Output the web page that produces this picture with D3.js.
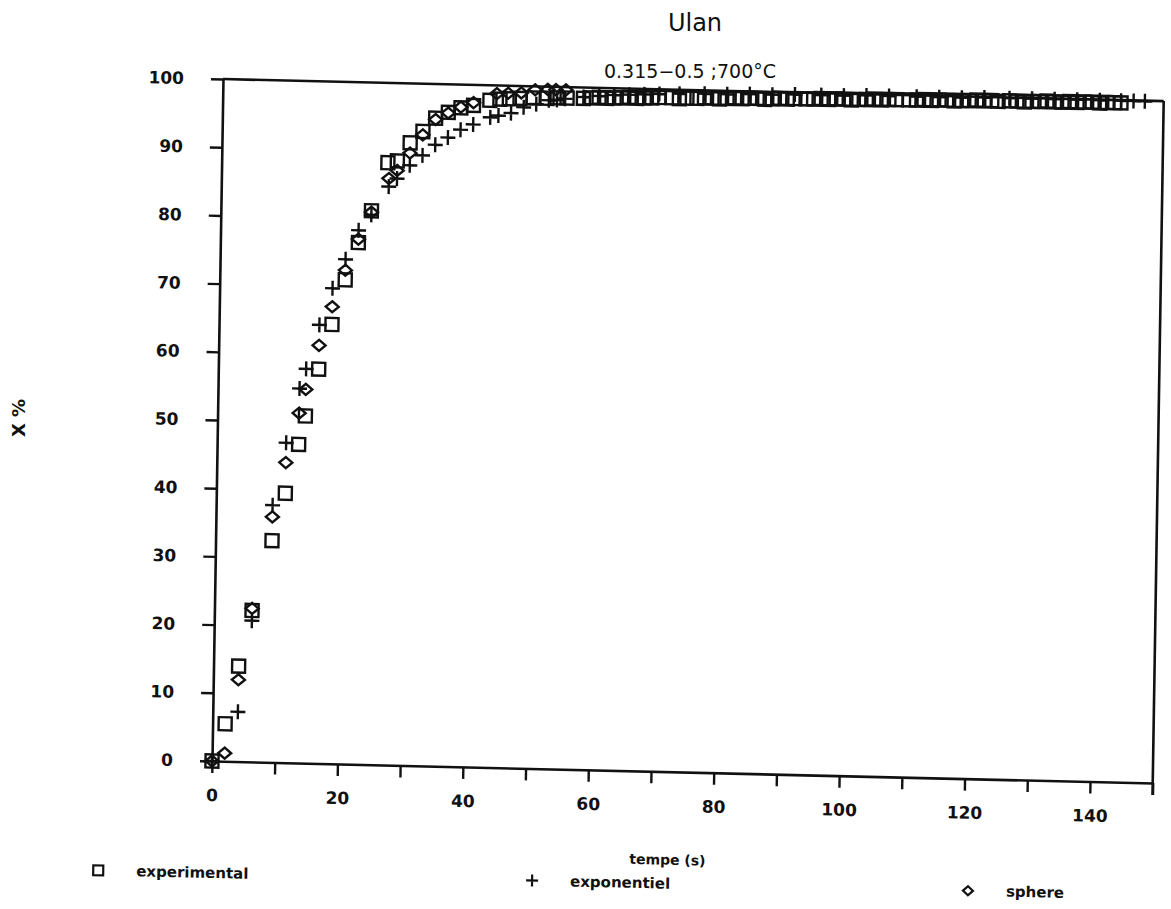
<!DOCTYPE html>
<html>
<head>
<meta charset="utf-8">
<script src="https://cdn.jsdelivr.net/npm/d3@7"></script>
<style>
  body { margin: 0; background: #fff; }
  svg { display: block; }
</style>
</head>
<body>
<svg id="chart" width="1171" height="909"></svg>
<script>
// Conversion X (%) versus time, sample 0.315-0.5, 700 °C
const expTime = [0, 2, 4, 6, 9, 11, 13, 14, 16, 18, 20, 22, 24, 26.5, 28, 30, 32, 34, 36, 38, 40,
  42.6, 44.2, 45.7, 47.4, 49.5, 51.7, 53.3, 54.9, 57.5,
  58.8, 60, 61.2, 62.4, 63.6, 64.8, 66, 67.2, 68.4, 69.6,
  71.6, 72.8, 74,
  75.6, 76.8, 78, 79.2, 80.4, 81.6, 82.8, 84, 85.2, 86.4, 87.6, 88.8, 90, 91.2,
  93, 94.2, 95.4, 96.6, 97.8, 99, 100.2, 101.4, 102.6, 103.8, 105, 106.2, 107.4,
  109.4, 110.6, 111.8, 113, 114.2, 115.4, 116.6, 117.8, 119, 120.2, 121.4, 122.6, 123.6,
  125.4, 126.6, 127.8, 129, 130.2, 131.4, 132.6, 133.8, 135, 136.2, 137.4, 138.6, 139.8, 141, 142.2, 143.2];
const expVal = [0, 5.5, 14, 22.2, 32.5, 39.5, 46.7, 50.9, 57.8, 64.4, 71, 76.5, 81.2, 88.3, 88.6, 91.3, 93, 95, 95.9, 96.6, 97,
  97.8, 98, 98.1, 98.2, 98.3, 98.3, 98.4, 98.4, 98.4,
  98.5, 98.6, 98.5, 98.6, 98.6, 98.7, 98.6, 98.7, 98.7, 98.8,
  98.8, 98.7, 98.8,
  98.8, 98.9, 98.9, 98.8, 98.9, 99.0, 98.9, 99.0, 99.0, 98.9, 99.0, 99.1, 99.0, 99.1,
  99.1, 99.1, 99.2, 99.1, 99.2, 99.2, 99.1, 99.2, 99.2, 99.3, 99.2, 99.3, 99.3,
  99.3, 99.3, 99.4, 99.3, 99.4, 99.4, 99.3, 99.4, 99.4, 99.5, 99.4, 99.5, 99.4,
  99.5, 99.5, 99.4, 99.5, 99.5, 99.6, 99.5, 99.5, 99.6, 99.5, 99.6, 99.6, 99.5, 99.6, 99.6, 99.6];

const expoTime = [0, 4, 6, 9, 11, 13, 14, 16, 18, 20, 22, 24, 26.7, 28, 30, 32, 34, 36, 38, 40,
  42.7, 44, 46, 48, 50, 52, 53.3, 54.6,
  57.5, 60, 62.4, 64.8, 67.2, 69.6, 72.8, 76.8, 80.4, 84, 87.6, 91.2, 95.4, 99, 102.6, 106.2,
  110.6, 114.2, 117.8, 121.4, 125.4, 129, 132.6, 136.2, 139.8, 143.2, 145.2, 147];
const expoVal = [0, 7.3, 20.7, 37.7, 46.9, 54.9, 57.8, 64.3, 69.7, 74, 78.3, 80.6, 84.8, 86, 88, 89.5, 91.1, 92.2, 93.4, 94.2,
  95.3, 95.6, 96, 96.9, 97.4, 98, 98.1, 98.3,
  98.6, 98.8, 99.0, 99.1, 99.2, 99.3, 99.4, 99.5, 99.5, 99.6, 99.6, 99.7, 99.7, 99.7, 99.8, 99.8,
  99.8, 99.8, 99.8, 99.9, 99.9, 99.9, 99.9, 99.9, 99.9, 99.9, 99.9, 99.9];

const sphTime = [0, 2, 4, 6, 9, 11, 13, 14, 16, 18, 20, 22, 24, 26.7, 28, 30, 32, 34, 36, 38, 40,
  43.7, 45.5, 47.6, 49.8, 51.8, 53.1, 54.7];
const sphVal = [0, 1.2, 12, 22.5, 36, 44, 51.3, 54.8, 61.3, 67, 72.4, 77, 81, 86, 87.2, 89.8, 92.5, 94.8, 95.8, 96.7, 97.4,
  98.8, 98.9, 99.0, 99.5, 99.6, 99.6, 99.6];

const xTickValues = [0, 10, 20, 30, 40, 50, 60, 70, 80, 90, 100, 110, 120, 130, 140, 150];
const xTickLabels = [0, 20, 40, 60, 80, 100, 120, 140];
const yTickValues = [0, 10, 20, 30, 40, 50, 60, 70, 80, 90, 100];

const seriesNames = ["experimental", "exponentiel", "sphere"];

const svg = d3.select("#chart");
const W = 941, H = 682;
const x = d3.scaleLinear().domain([0, 150]).range([0, W]);
const y = d3.scaleLinear().domain([0, 100]).range([0, -H]);
const ink = "#111";

// marker shapes
function squarePath(s) { const h = s / 2; return `M${-h},${-h}H${h}V${h}H${-h}Z`; }
function diamondPath(w, hh) { return `M0,${-hh / 2}L${w / 2},0L0,${hh / 2}L${-w / 2},0Z`; }
function plusPath(s) { const h = s / 2; return `M${-h},0H${h}M0,${-h}V${h}`; }
const shapes = [squarePath(13), plusPath(15), diamondPath(13, 11)];

// titles
svg.append("text").attr("x", 695).attr("y", 31).attr("text-anchor", "middle")
  .attr("font-family", "DejaVu Sans").attr("font-size", 24).attr("fill", ink).text("Ulan");
svg.append("text").attr("x", 690).attr("y", 78).attr("text-anchor", "middle")
  .attr("font-family", "DejaVu Sans").attr("font-size", 19).attr("fill", ink).text("0.315\u22120.5 ;700\u00b0C");

// the sheet sits a little askew; the whole plot is drawn in its frame
const g = svg.append("g").attr("transform", "matrix(0.9997,0.0234,-0.0161,0.9999,212,761)");

const tickFont = sel => sel.selectAll("text")
  .attr("font-family", "DejaVu Sans").attr("font-weight", "bold").attr("font-size", 17).attr("fill", ink);

const xAxis = d3.axisBottom(x).tickValues(xTickValues).tickSize(12).tickSizeOuter(0).tickPadding(16)
  .tickFormat(d => xTickLabels.includes(d) ? d : "");
const yAxis = d3.axisLeft(y).tickValues(yTickValues).tickSize(12).tickSizeOuter(0).tickPadding(27);

const gx = g.append("g").call(xAxis).call(tickFont);
const gy = g.append("g").call(yAxis).call(tickFont);
[gx, gy].forEach(a => {
  a.select(".domain").attr("stroke", ink).attr("stroke-width", 2.6);
  a.selectAll(".tick line").attr("stroke", ink).attr("stroke-width", 2.4);
});

// upper and right frame lines
g.append("line").attr("x1", x(0)).attr("x2", x(150)).attr("y1", y(100)).attr("y2", y(100))
  .attr("stroke", ink).attr("stroke-width", 2.6);
g.append("line").attr("x1", x(150)).attr("x2", x(150)).attr("y1", y(100)).attr("y2", y(0) + 12)
  .attr("stroke", ink).attr("stroke-width", 2.6);

// data markers
const series = [
  { t: expTime, v: expVal },
  { t: expoTime, v: expoVal },
  { t: sphTime, v: sphVal }
];
series.forEach((s, i) => {
  g.append("g").selectAll("path")
    .data(s.t.map((t, k) => [t, s.v[k]]))
    .join("path")
    .attr("transform", d => `translate(${x(d[0])},${y(d[1])})`)
    .attr("d", shapes[i])
    .attr("fill", "none").attr("stroke", ink).attr("stroke-width", 2.4);
});

// axis titles
g.append("text").attr("x", 457).attr("y", 93).attr("text-anchor", "middle")
  .attr("font-family", "DejaVu Sans").attr("font-weight", "bold").attr("font-size", 14)
  .attr("fill", ink).text("tempe (s)");
svg.append("text").attr("transform", "translate(25,418) rotate(-90)").attr("text-anchor", "middle")
  .attr("font-family", "DejaVu Sans").attr("font-weight", "bold").attr("font-size", 18)
  .attr("fill", ink).text("X %");

// legend row
const legendX = [-112, 322, 758];
const legendShapes = [squarePath(10), plusPath(12), diamondPath(10, 9)];
seriesNames.forEach((name, i) => {
  g.append("path").attr("transform", `translate(${legendX[i]},112)`).attr("d", legendShapes[i])
    .attr("fill", "none").attr("stroke", ink).attr("stroke-width", 2.2);
  g.append("text").attr("x", legendX[i] + 38).attr("y", 117)
    .attr("font-family", "DejaVu Sans").attr("font-weight", "bold").attr("font-size", 15)
    .attr("fill", ink).text(name);
});
</script>
</body>
</html>
